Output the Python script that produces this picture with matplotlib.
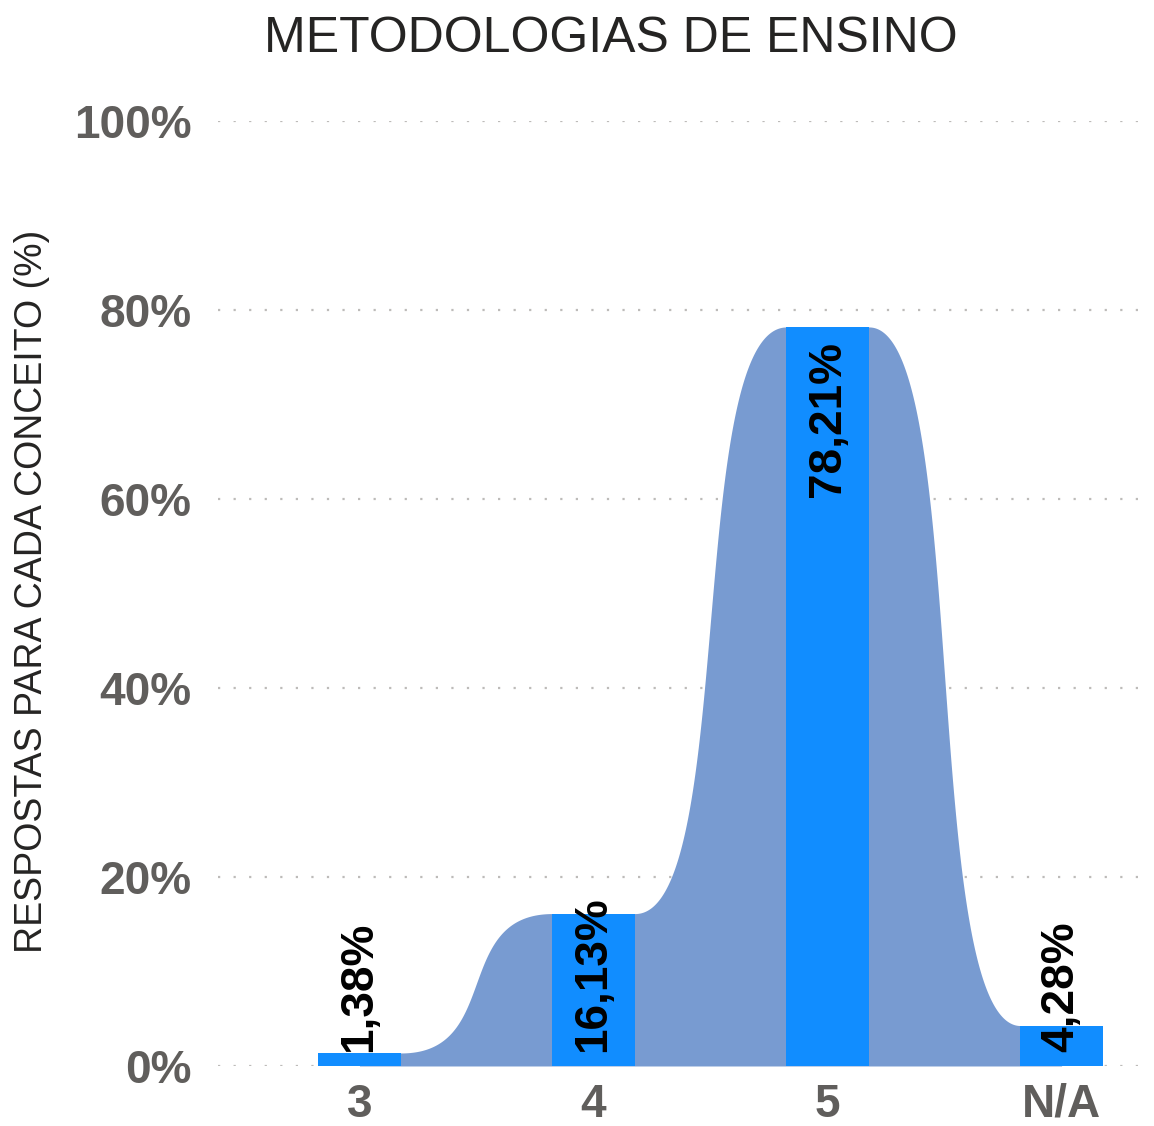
import numpy as np
import matplotlib.pyplot as plt

categories = ["3", "4", "5", "N/A"]
values = [1.38, 16.13, 78.21, 4.28]
value_labels = ["1,38%", "16,13%", "78,21%", "4,28%"]
y_ticks = [0, 20, 40, 60, 80, 100]
y_tick_labels = ["0%", "20%", "40%", "60%", "80%", "100%"]

bar_color = '#118dff'
ribbon_color = '#789bd1'
tick_color = '#605e5c'
bar_w = 0.353


def ribbon(ax, xa, xb, y0, y1, w, a=2 / 3):
    # cubic bezier with flat tangents between two bar tops, flat under bars
    x0 = xa + w / 2
    x1 = xb - w / 2
    L = x1 - x0
    u = np.linspace(0, 1, 300)
    bx = 3 * a * u * (1 - u) ** 2 + 3 * (1 - a) * u ** 2 * (1 - u) + u ** 3
    by = 3 * u ** 2 * (1 - u) + u ** 3
    xs = np.concatenate([[xa], x0 + L * bx, [xb]])
    ys = np.concatenate([[y0], y0 + (y1 - y0) * by, [y1]])
    ax.fill_between(xs, 0, ys, color=ribbon_color, linewidth=0, zorder=1)


fig = plt.figure(figsize=(11.54, 11.26), dpi=100)
ax = fig.add_axes([0.189, 0.0533, 0.808, 0.8392])

x = np.arange(len(categories))
for i in range(len(x) - 1):
    ribbon(ax, x[i], x[i + 1], values[i], values[i + 1], bar_w)

ax.bar(x, values, width=bar_w, color=bar_color, zorder=2)

for xi, v, lab in zip(x, values, value_labels):
    if v > 30:
        ax.text(xi, v - 1.5, lab, rotation=90, ha='center', va='top',
                fontsize=33, fontweight='bold', family='Liberation Sans', zorder=3)
    else:
        ax.text(xi, 1.5, lab, rotation=90, ha='center', va='bottom',
                fontsize=33, fontweight='bold', family='Liberation Sans', zorder=3)

ax.set_xlim(-0.604, 3.38)
ax.set_ylim(0, 100)
ax.set_yticks(y_ticks)
ax.set_yticklabels(y_tick_labels)
ax.set_xticks(x)
ax.set_xticklabels(categories)
for lab in ax.get_xticklabels() + ax.get_yticklabels():
    lab.set_fontsize(33)
    lab.set_fontweight('bold')
    lab.set_family('Liberation Sans')
    lab.set_color(tick_color)
ax.tick_params(axis='both', length=0)
ax.tick_params(axis='y', pad=19)
ax.tick_params(axis='x', pad=12)

ax.grid(axis='y', linestyle=(0, (1, 6)), color='#bdbbb9', linewidth=1.6, zorder=0)
ax.set_axisbelow(True)
for sp in ax.spines.values():
    sp.set_visible(False)

fig.text(0.028, 0.4747, 'RESPOSTAS PARA CADA CONCEITO (%)', rotation=90,
         ha='center', va='center', fontsize=27, color='#252423',
         family='Liberation Sans')

fig.text(0.529, 0.965, 'METODOLOGIAS DE ENSINO', ha='center', va='center',
         fontsize=36, color='#252423', family='Liberation Sans')

plt.savefig('out.png', dpi=100)
plt.close()
